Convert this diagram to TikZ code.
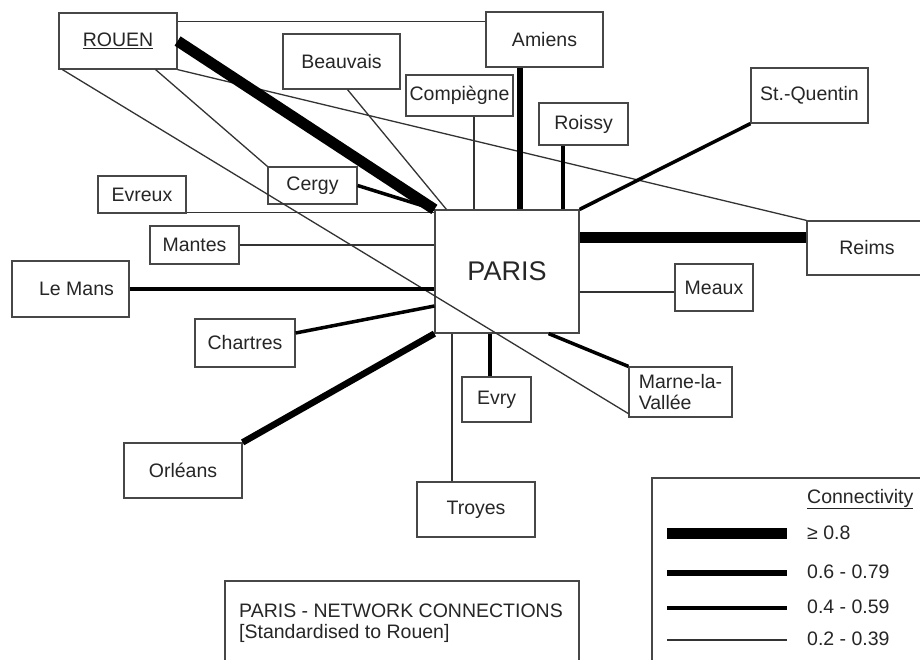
\documentclass[tikz,border=0pt]{standalone}
\usepackage{fontspec}
\setmainfont{Liberation Sans}
\usetikzlibrary{calc}
\begin{document}
\begin{tikzpicture}[x=1pt,y=-1pt,
  box/.style={draw=black!72, line width=1.2pt, inner sep=0pt, text=black!85, font=\fontsize{19.5}{21}\selectfont},
  lbl/.style={inner sep=0pt, text=black!85, font=\fontsize{19.5}{21}\selectfont},
  wa/.style={line width=1.3pt, draw=black!80},
  wb/.style={line width=3.5pt, draw=black},
  wc/.style={line width=6.5pt, draw=black},
  wd/.style={line width=11pt, draw=black}]
\clip (0,0) rectangle (920,659);
\fill[white] (0,0) rectangle (920,659);
% boxes
\node[box, minimum width=118pt, minimum height=56pt] (rouen) at (118,41) {\underline{ROUEN}};
\node[box, minimum width=117pt, minimum height=55pt] (beauvais) at (341.5,61.5) {Beauvais};
\node[box, minimum width=107pt, minimum height=41pt] (compiegne) at (459.5,95.5) {Compiègne};
\node[box, minimum width=117pt, minimum height=55pt] (amiens) at (544.5,39.5) {Amiens};
\node[box, minimum width=89pt, minimum height=42pt] (roissy) at (583.5,124) {Roissy};
\node[box, minimum width=117pt, minimum height=55pt] (stquentin) at (809.5,95.5) {St.-Quentin};
\node[box, minimum width=89pt, minimum height=37pt] (cergy) at (312.5,185.5) {Cergy};
\node[box, minimum width=88pt, minimum height=37pt] (evreux) at (142,194.5) {Evreux};
\node[box, minimum width=89pt, minimum height=38pt] (mantes) at (194.5,245) {Mantes};
\node[box, minimum width=117pt, minimum height=56pt] (lemans) at (70.5,289) {\hspace*{12pt}Le Mans};
\node[box, minimum width=100pt, minimum height=48pt] (chartres) at (245,343) {Chartres};
\node[box, minimum width=144pt, minimum height=123pt, font=\fontsize{27}{30}\selectfont] (paris) at (507,271.5) {PARIS};
\node[box, minimum width=120pt, minimum height=54pt] (reims) at (867,248) {Reims};
\node[box, minimum width=78pt, minimum height=47pt] (meaux) at (714,287.5) {Meaux};
\node[box, minimum width=103pt, minimum height=50pt, align=left] (marne) at (680.5,392) {Marne-la-\\Vallée};
\node[box, minimum width=69pt, minimum height=45pt] (evry) at (496.5,399.5) {Evry};
\node[box, minimum width=118pt, minimum height=55pt] (orleans) at (183,470.5) {Orléans};
\node[box, minimum width=118pt, minimum height=55pt] (troyes) at (476,509.5) {Troyes};
\node[box, minimum width=354pt, minimum height=99pt] (title) at (402,630.5) {};
\node[lbl, anchor=west, align=left, font=\fontsize{19.5}{20.5}\selectfont] (titletext) at (239,623) {PARIS - NETWORK CONNECTIONS\\{[}Standardised to Rouen{]}};
\node[box, minimum width=288pt, minimum height=222pt] (legend) at (796,589) {};
% connectors
\coordinate (rA) at ([yshift=-9pt]rouen.north east);
\draw[wa] (rA) -- (rA -| amiens.west);
\draw[wa] (rouen.south east) -- (reims.north west);
\draw[wa] ([xshift=-22pt]rouen.south east) -- (cergy.north west);
\draw[wa] ([xshift=4pt]rouen.south west) -- ([yshift=4pt]marne.south west);
\draw[wa] ([xshift=6pt]beauvais.south) -- ([xshift=12pt]paris.north west);
\coordinate (cP) at ([xshift=14.5pt]compiegne.south);
\draw[wa] (cP) -- (cP |- paris.north);
\coordinate (aP) at ([xshift=-24.5pt]amiens.south);
\draw[wc] (aP) -- (aP |- paris.north);
\coordinate (roP) at ([xshift=-20.5pt]roissy.south);
\draw[wb] (roP) -- (roP |- paris.north);
\draw[wb] (stquentin.south west) -- (paris.north east);
\coordinate (reP) at ([yshift=11pt]reims.west);
\draw[wd] (reP) -- (reP -| paris.east);
\coordinate (mxP) at ([yshift=-4.5pt]meaux.west);
\draw[wa] (mxP) -- (mxP -| paris.east);
\draw[wb] (marne.north west) -- ([xshift=-31pt]paris.south east);
\coordinate (evP) at ([xshift=-6.5pt]evry.north);
\draw[wb] (evP) -- (evP |- paris.south);
\coordinate (trP) at ([xshift=-24pt]troyes.north);
\draw[wa] (trP) -- (trP |- paris.south);
\draw[wc] (orleans.north east) -- (paris.south west);
\draw[wb] ([yshift=10pt]chartres.east) -- ([yshift=-34.5pt]paris.west);
\draw[wb] (lemans.east) -- (lemans.east -| paris.west);
\draw[wa] (mantes.east) -- (mantes.east -| paris.west);
\coordinate (exP) at ([yshift=1pt]evreux.south east);
\draw[wa] (exP) -- (exP -| paris.west);
\draw[wb] (cergy.east) -- (paris.north west);
\draw[wd] (rouen.east) -- (paris.north west);
% legend
\node[lbl, anchor=west] (lg0) at (807,499) {\underline{Connectivity}};
\draw[wd] (667,533) -- (787,533);
\node[lbl, anchor=west] (lg1) at (807,533) {≥ 0.8};
\draw[wc] (667,573) -- (787,573);
\node[lbl, anchor=west] (lg2) at (807,572) {0.6 - 0.79};
\draw[wb] (667,608) -- (787,608);
\node[lbl, anchor=west] (lg3) at (807,607) {0.4 - 0.59};
\draw[wa] (667,640) -- (787,640);
\node[lbl, anchor=west] (lg4) at (807,639) {0.2 - 0.39};
\end{tikzpicture}
\end{document}
